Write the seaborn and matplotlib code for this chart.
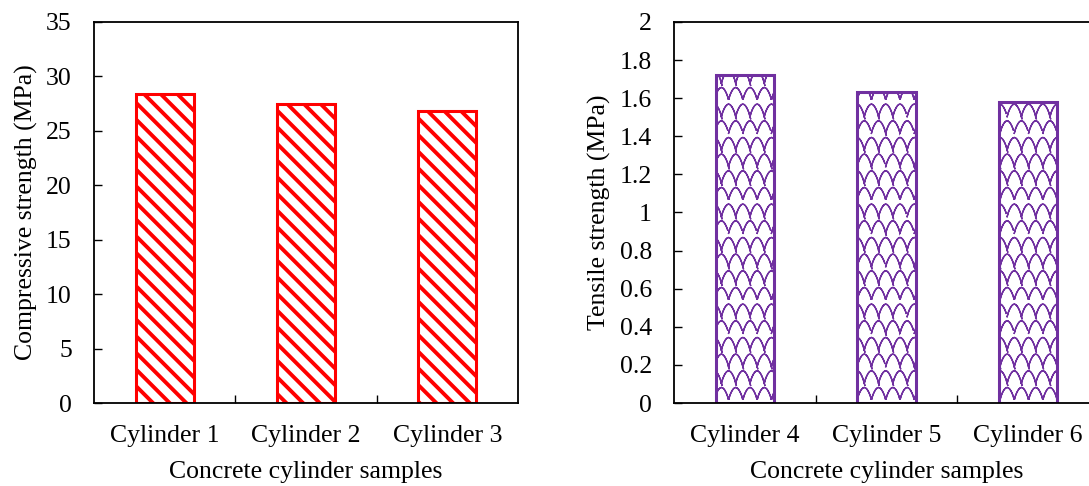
import warnings
import numpy as np
import matplotlib
matplotlib.use('Agg')
import matplotlib.pyplot as plt
import matplotlib.hatch as mhatch
from matplotlib.path import Path
import seaborn as sns

warnings.filterwarnings('ignore')

# Data
comp_labels = ['Cylinder 1', 'Cylinder 2', 'Cylinder 3']
comp_values = [28.4, 27.5, 26.8]
tens_labels = ['Cylinder 4', 'Cylinder 5', 'Cylinder 6']
tens_values = [1.72, 1.63, 1.58]


# Scale-like ("shingle") hatch pattern, triggered by the letter 's'.
# Each arc is traced forward and back so the hatch fill adds no area.
class ScaleHatch(mhatch.HatchPatternBase):
    cols, rows, steps = 7, 6, 13

    def __init__(self, hatch, density):
        self.on = 's' in hatch
        n = 2 * self.steps
        self.num_vertices = self.rows * (self.cols + 1) * n if self.on else 0

    def set_vertices_and_codes(self, vertices, codes):
        t = np.linspace(0, 1, self.steps)
        t = np.concatenate([t, t[::-1]])
        n = len(t)
        w, h = 1 / self.cols, 1 / self.rows
        k = 0
        for r in range(self.rows):
            shift = w / 2 if r % 2 else 0
            for c in range(-1, self.cols):
                vertices[k:k + n, 0] = shift + c * w + w * t
                vertices[k:k + n, 1] = r * h + 0.75 * h * np.sin(np.pi * t) ** 0.8
                codes[k] = Path.MOVETO
                codes[k + 1:k + n] = Path.LINETO
                k += n


mhatch._hatch_types.append(ScaleHatch)

plt.rcParams['font.family'] = ['Liberation Serif', 'DejaVu Serif']
plt.rcParams['font.size'] = 18.5
plt.rcParams['axes.linewidth'] = 1.3

fig = plt.figure(figsize=(10.89, 4.86), dpi=100)
ax1 = fig.add_axes([94 / 1089, 83 / 486, 424 / 1089, 381 / 486])
ax2 = fig.add_axes([674 / 1089, 83 / 486, 425 / 1089, 381 / 486])


def draw_panel(ax, labels, values, color, hatch, hatch_lw, ylim, yticks, ylabel):
    plt.rcParams['hatch.linewidth'] = hatch_lw
    sns.barplot(x=labels, y=values, ax=ax, color='white', saturation=1,
                edgecolor=color, linewidth=2.2, hatch=hatch, width=0.41)
    for p in ax.patches:
        if hasattr(p, 'set_hatch_linewidth'):
            p.set_hatch_linewidth(hatch_lw)
    ax.set_xlim(-0.5, len(labels) - 0.5)
    ax.set_ylim(*ylim)
    ax.set_yticks(yticks)
    ax.set_xticks(range(len(labels)))
    ax.set_xticklabels(labels)
    ax.set_xticks([i + 0.5 for i in range(len(labels) - 1)], minor=True)
    ax.tick_params(axis='x', which='major', length=0, pad=16)
    ax.tick_params(axis='x', which='minor', direction='in', length=6, width=1)
    ax.tick_params(axis='y', direction='in', length=6, width=1, pad=16)
    ax.set_xlabel('Concrete cylinder samples', labelpad=10)
    ax.set_ylabel(ylabel, labelpad=6)


draw_panel(ax1, comp_labels, comp_values, '#FF0000', '\\\\', 2.8,
           (0, 35), range(0, 36, 5), 'Compressive strength (MPa)')
ax1.set_yticklabels([str(v) for v in range(0, 36, 5)])

tens_ticks = [0, 0.2, 0.4, 0.6, 0.8, 1, 1.2, 1.4, 1.6, 1.8, 2]
draw_panel(ax2, tens_labels, tens_values, '#7030A0', 's', 1.0,
           (0, 2), tens_ticks, 'Tensile strength (MPa)')
ax2.set_yticklabels(['0', '0.2', '0.4', '0.6', '0.8', '1', '1.2', '1.4',
                     '1.6', '1.8', '2'])

fig.savefig('out.png', dpi=100)
